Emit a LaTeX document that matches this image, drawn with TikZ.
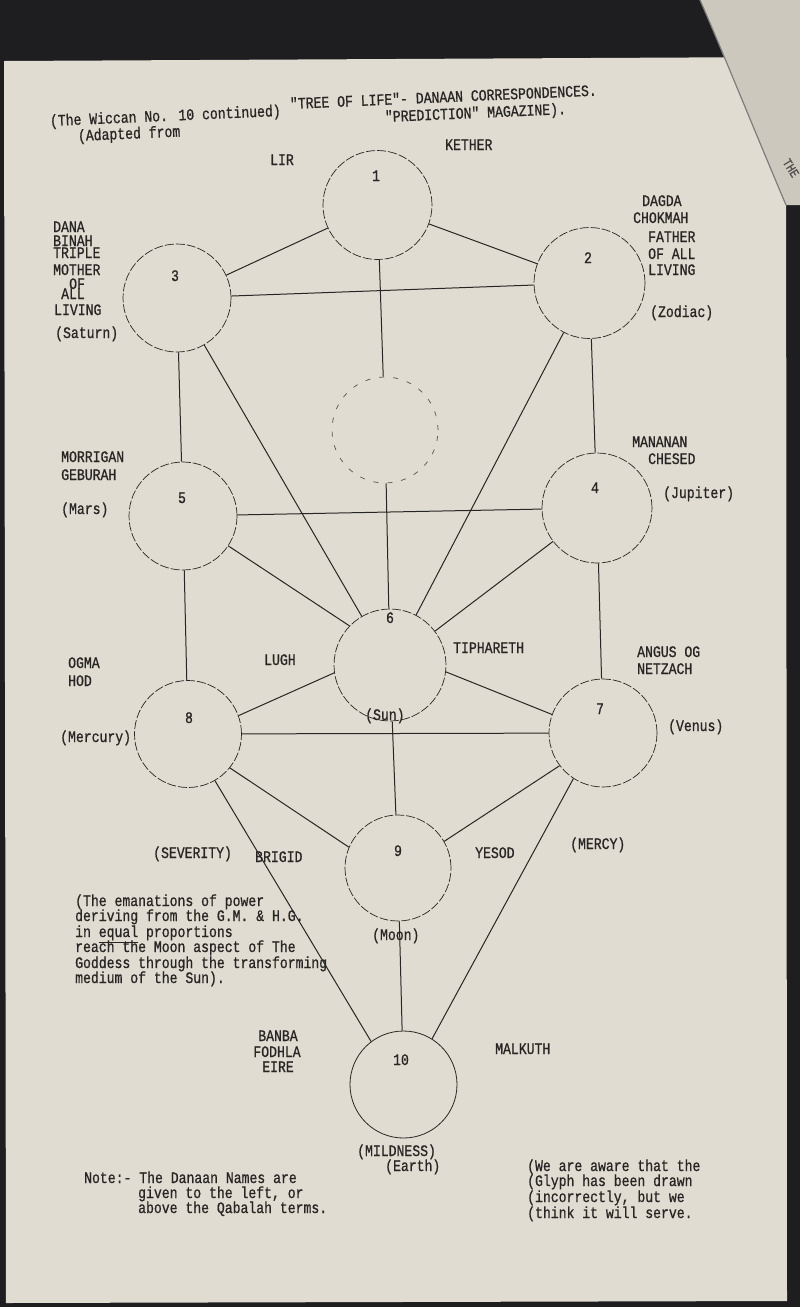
\documentclass[tikz,border=0pt]{standalone}
\usepackage{fontspec}
\newfontfamily\twfont[FakeStretch=0.82,FakeBold=0.8]{Liberation Mono}
\definecolor{bgdark}{RGB}{30,30,33}
\definecolor{paper}{RGB}{224,220,209}
\definecolor{paper2}{RGB}{205,200,189}
\definecolor{ink}{RGB}{40,38,36}
\begin{document}
\begin{tikzpicture}[x=1pt,y=-1pt,
  tw/.style={font={\twfont\fontsize{16}{15.5}\selectfont}, text=ink, inner sep=0pt, anchor=base west},
  twc/.style={tw, anchor=base},
  sef/.style={circle, draw=ink, line width=0.7pt, dash pattern=on 9pt off 2pt, inner sep=0pt, minimum size=#1},
  daath/.style={circle, draw=ink!80, line width=0.7pt, dash pattern=on 5pt off 9pt, inner sep=0pt, minimum size=#1},
  solidsef/.style={circle, draw=ink, line width=0.8pt, inner sep=0pt, minimum size=#1},
  conn/.style={draw=ink, line width=1pt}]
\useasboundingbox (0,0) rectangle (800,1307);
% photo background and page
\fill[bgdark] (0,0) rectangle (800,1307);
\fill[paper] (4,61) -- (786,57) -- (787,1301) -- (6,1303) -- cycle;
\fill[paper2] (700,0) .. controls (722,50) and (750,120) .. (786,205) -- (800,205) -- (800,0) -- cycle;
\draw[ink!60, line width=1.2pt] (700,0) .. controls (722,50) and (750,120) .. (786,205);
\node[font={\twfont\fontsize{13}{13}\selectfont}, text=ink!80, inner sep=0pt, rotate=-58] (the) at (791,168) {THE};

% sephiroth
\node[sef=109pt] (c1) at (377.5,205) {};
\node[sef=111pt] (c2) at (589.5,283) {};
\node[sef=108pt] (c3) at (177,298) {};
\node[sef=110pt] (c4) at (597,508) {};
\node[sef=108pt] (c5) at (183,516) {};
\node[daath=106pt] (cD) at (385,430) {};
\node[sef=112pt] (c6) at (390,665) {};
\node[sef=108pt] (c7) at (603,733) {};
\node[sef=107pt] (c8) at (188,734) {};
\node[sef=106pt] (c9) at (398,868) {};
\node[solidsef=107pt] (c10) at (403.5,1084.5) {};

% paths
\draw[conn] (c1) -- (c3);
\draw[conn] (c1) -- (c2);
\draw[conn] (c3) -- (c2);
\draw[conn] (c1) -- (cD);
\draw[conn] (c3) -- (c5);
\draw[conn] (c2) -- (c4);
\draw[conn] (c3) -- (c6);
\draw[conn] (c2) -- (c6);
\draw[conn] (cD) -- (c6);
\draw[conn] (c5) -- (c4);
\draw[conn] (c5) -- (c6.136);
\draw[conn] (c4) -- (c6.37);
\draw[conn] (c5) -- (c8);
\draw[conn] (c4) -- (c7);
\draw[conn] (c6.188) -- (c8.20);
\draw[conn] (c6.-7) -- (c7.160);
\draw[conn] (c8) -- (c7);
\draw[conn] (c6) -- (c9);
\draw[conn] (c8.-39) -- (c9.157);
\draw[conn] (c7.217) -- (c9.30);
\draw[conn] (c8.-60) -- (c10.127);
\draw[conn] (c7.-123) -- (c10.58);
\draw[conn] (c9) -- (c10);

% header
\node[tw, rotate=2.5] (h1) at (50,126) {(The Wiccan No. 10 continued)};
\node[tw, rotate=2.5] (h2) at (290,109) {"TREE OF LIFE"- DANAAN CORRESPONDENCES.};
\node[tw, rotate=2.5] (h3) at (78,141) {(Adapted from};
\node[tw, rotate=2.5] (h4) at (385,122) {"PREDICTION" MAGAZINE).};

% numbers
\node[twc] (n1) at (376,181) {1};
\node[twc] (n2) at (588,263) {2};
\node[twc] (n3) at (175,281) {3};
\node[twc] (n4) at (595,493) {4};
\node[twc] (n5) at (182,503) {5};
\node[twc] (n6) at (390,623) {6};
\node[twc] (n7) at (600,714) {7};
\node[twc] (n8) at (189,723) {8};
\node[twc] (n9) at (398,856) {9};
\node[twc] (n10) at (401,1065) {10};

% Kether
\node[tw] (kether) at (445,150) {KETHER};
\node[tw] (lir) at (270,165) {LIR};
% Binah
\node[tw] (dana) at (53,232) {DANA};
\node[tw] (binah) at (53,246) {BINAH};
\node[tw] (triple) at (53,258) {TRIPLE};
\node[tw] (mother) at (53,275) {MOTHER};
\node[tw] (of3) at (69,289) {OF};
\node[tw] (all3) at (61,299) {ALL};
\node[tw] (living3) at (54,315) {LIVING};
\node[tw] (saturn) at (55,338) {(Saturn)};
% Chokmah
\node[tw] (dagda) at (642,206) {DAGDA};
\node[tw] (chokmah) at (633,223) {CHOKMAH};
\node[tw] (father) at (648,242) {FATHER};
\node[tw] (ofall2) at (648,259) {OF ALL};
\node[tw] (living2) at (648,275) {LIVING};
\node[tw] (zodiac) at (650,317) {(Zodiac)};
% Geburah
\node[tw] (morrigan) at (61,462) {MORRIGAN};
\node[tw] (geburah) at (61,480) {GEBURAH};
\node[tw] (mars) at (61,514) {(Mars)};
% Chesed
\node[tw] (mananan) at (632,447) {MANANAN};
\node[tw] (chesed) at (648,464) {CHESED};
\node[tw] (jupiter) at (663,498) {(Jupiter)};
% Tiphareth
\node[tw] (tiph) at (453,653) {TIPHARETH};
\node[tw] (lugh) at (264,665) {LUGH};
\node[tw] (sun) at (365,720) {(Sun)};
% Hod
\node[tw] (ogma) at (68,668) {OGMA};
\node[tw] (hod) at (68,686) {HOD};
\node[tw] (mercury) at (60,742) {(Mercury)};
% Netzach
\node[tw] (angus) at (637,657) {ANGUS OG};
\node[tw] (netzach) at (637,674) {NETZACH};
\node[tw] (venus) at (668,731) {(Venus)};
% Yesod
\node[tw] (severity) at (153,858) {(SEVERITY)};
\node[tw] (brigid) at (255,862) {BRIGID};
\node[tw] (yesod) at (475,858) {YESOD};
\node[tw] (mercy) at (570,849) {(MERCY)};
\node[tw] (moon) at (372,940) {(Moon)};
% paragraph
\node[tw] (p1) at (75,906) {(The emanations of power};
\node[tw] (p2) at (75,921) {deriving from the G.M. \& H.G.};
\node[tw] (p3) at (75,937) {in \underline{equal} proportions};
\node[tw] (p4) at (75,952) {reach the Moon aspect of The};
\node[tw] (p5) at (75,968) {Goddess through the transforming};
\node[tw] (p6) at (75,983) {medium of the Sun).};
% Malkuth
\node[twc] (banba) at (278,1041) {BANBA};
\node[twc] (fodhla) at (277,1057) {FODHLA};
\node[twc] (eire) at (278,1072) {EIRE};
\node[tw] (malkuth) at (495,1054) {MALKUTH};
\node[tw] (mildness) at (357,1156) {(MILDNESS)};
\node[tw] (earth) at (385,1171) {(Earth)};
% notes
\node[tw] (note1) at (84,1183) {Note:- The Danaan Names are};
\node[tw] (note2) at (138,1198) {given to the left, or};
\node[tw] (note3) at (138,1213) {above the Qabalah terms.};
\node[tw] (we1) at (527,1171) {(We are aware that the};
\node[tw] (we2) at (527,1186) {(Glyph has been drawn};
\node[tw] (we3) at (527,1202) {(incorrectly, but we};
\node[tw] (we4) at (527,1218) {(think it will serve.};
\end{tikzpicture}
\end{document}
